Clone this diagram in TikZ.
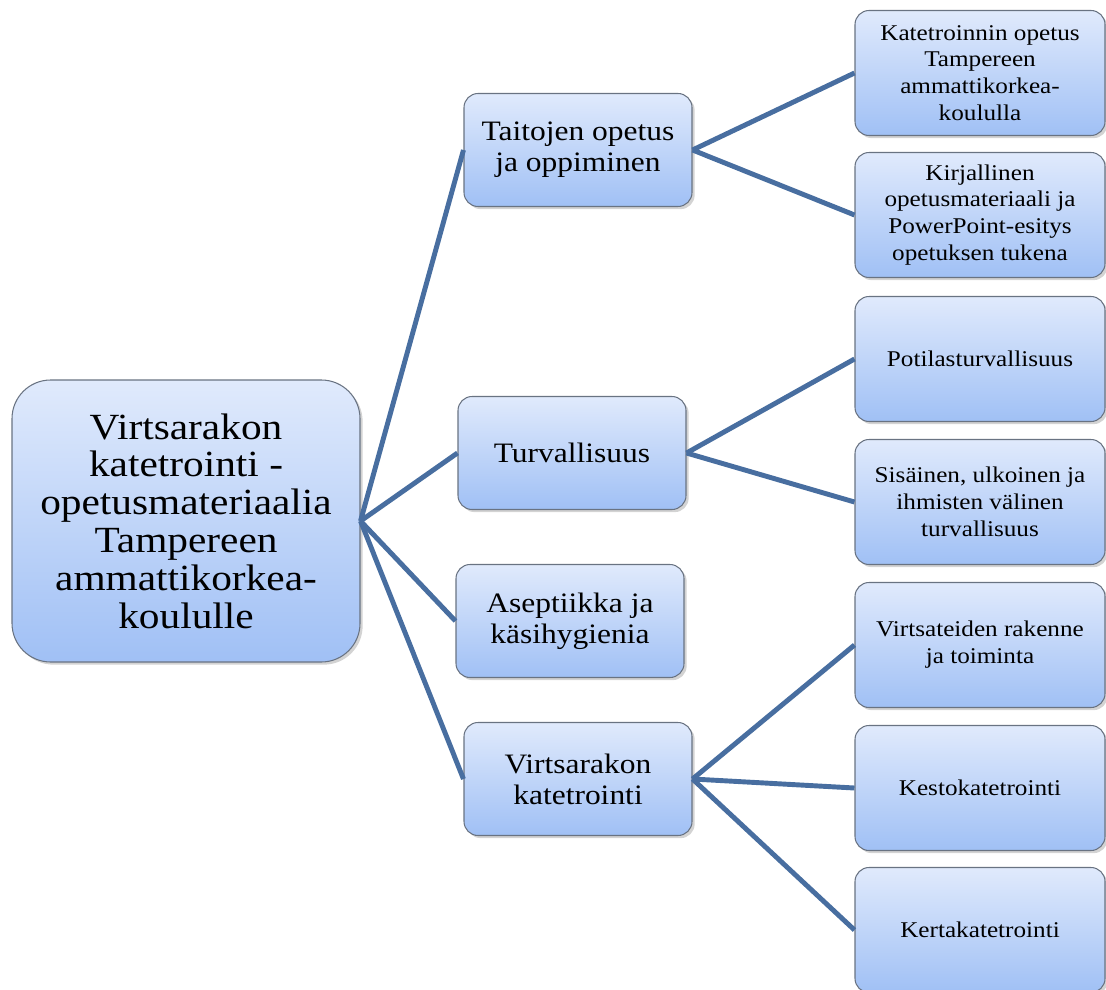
\documentclass[tikz,border=0pt]{standalone}
\usepackage{fontspec}
\setmainfont{Liberation Serif}[FakeStretch=1.12]
\usetikzlibrary{shadows}
\definecolor{box-top}{RGB}      {224, 234, 252}
\definecolor{box-bottom}{RGB}   {160, 192, 245}
\definecolor{box-border}{RGB}   {105, 115, 130}
\definecolor{link-blue}{RGB}    { 72, 110, 160}

\begin{document}
\begin{tikzpicture}[
	box/.style={draw=box-border, line width=0.6pt, top color=box-top, bottom color=box-bottom,
		rounded corners=8pt, align=center, inner sep=2pt,
		drop shadow={shadow xshift=1.5pt, shadow yshift=-1.5pt, opacity=0.35}},
	rootbox/.style={box, rounded corners=22pt, minimum width=6.96cm, minimum height=5.64cm,
		font=\fontsize{21}{21.5}\selectfont},
	topicbox/.style={box, minimum width=4.56cm, minimum height=2.26cm,
		font=\fontsize{16}{17.6}\selectfont},
	subbox/.style={box, minimum width=5cm, minimum height=2.5cm,
		font=\fontsize{12.8}{15.3}\selectfont},
	link/.style={draw=link-blue, line width=2.8pt}
]
\useasboundingbox (0,0) rectangle (22.12,-19.78);

% main topic
\node[rootbox] (root) at (3.72,-10.42) {Virtsarakon\\katetrointi -\\opetusmateriaalia\\Tampereen\\ammattikorkea-\\koululle};

% second level
\node[topicbox] (taito) at (11.56,-3.00) {Taitojen opetus\\ja oppiminen};
\node[topicbox] (turva) at (11.44,-9.06) {Turvallisuus};
\node[topicbox] (asept) at (11.40,-12.42) {Aseptiikka ja\\käsihygienia};
\node[topicbox] (katet) at (11.56,-15.58) {Virtsarakon\\katetrointi};

% third level
\node[subbox] (opetus) at (19.60,-1.46) {Katetroinnin opetus\\Tampereen\\ammattikorkea-\\koululla};
\node[subbox] (kirj) at (19.60,-4.30) {Kirjallinen\\opetusmateriaali ja\\PowerPoint-esitys\\opetuksen tukena};
\node[subbox] (poti) at (19.60,-7.18) {Potilasturvallisuus};
\node[subbox] (sis) at (19.60,-10.04) {Sisäinen, ulkoinen ja\\ihmisten välinen\\turvallisuus};
\node[subbox] (rak) at (19.60,-12.90) {Virtsateiden rakenne\\ja toiminta};
\node[subbox] (kesto) at (19.60,-15.76) {Kestokatetrointi};
\node[subbox] (kerta) at (19.60,-18.60) {Kertakatetrointi};

\foreach \t in {taito,turva,asept,katet}
	\draw[link] (root.east) -- (\t.west);
\foreach \s in {opetus,kirj}
	\draw[link] (taito.east) -- (\s.west);
\foreach \s in {poti,sis}
	\draw[link] (turva.east) -- (\s.west);
\foreach \s in {rak,kesto,kerta}
	\draw[link] (katet.east) -- (\s.west);

\end{tikzpicture}
\end{document}
